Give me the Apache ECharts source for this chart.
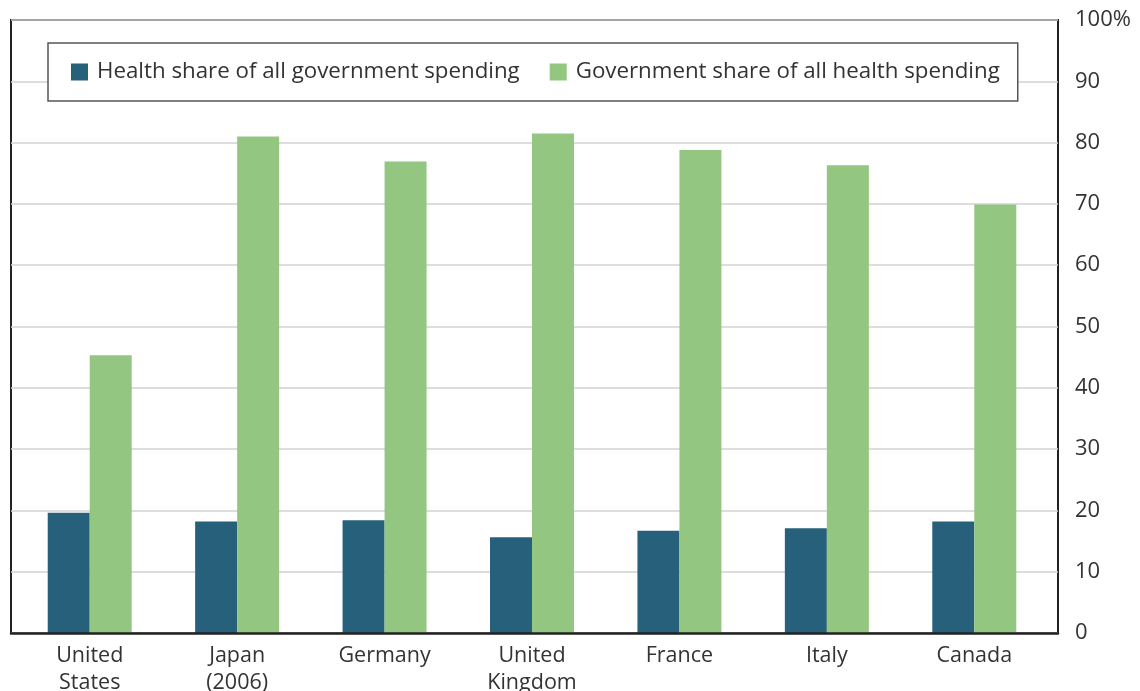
<!DOCTYPE html>
<html>
<head>
<meta charset="utf-8">
<script src="https://cdn.jsdelivr.net/npm/echarts@6/dist/echarts.min.js"></script>
<style>html,body{margin:0;padding:0;background:#fff}#c{width:1140px;height:691px}</style>
</head>
<body>
<div id="c"></div>
<script>
const categories = ['United\nStates', 'Japan\n(2006)', 'Germany', 'United\nKingdom', 'France', 'Italy', 'Canada'];
const healthShareOfGov = [19.6, 18.2, 18.4, 15.6, 16.7, 17.1, 18.2];
const govShareOfHealth = [45.3, 81.0, 76.9, 81.5, 78.8, 76.3, 69.9];
const seriesNames = ['Health share of all government spending', 'Government share of all health spending'];
const yTicks = { min: 0, max: 100, interval: 10 };

const FONT = 'Open Sans';
const chart = echarts.init(document.getElementById('c'), null, { renderer: 'canvas' });
chart.setOption({
  animation: false,
  backgroundColor: '#fff',
  textStyle: { fontFamily: FONT },
  legend: {
    data: seriesNames,
    left: 48, top: 43,
    icon: 'rect', itemWidth: 17, itemHeight: 17, itemGap: 30,
    padding: [18, 18, 18, 23],
    backgroundColor: '#fff',
    borderColor: '#555', borderWidth: 1.5,
    textStyle: { fontFamily: FONT, fontSize: 22.3, color: '#333', padding: [0, 0, 0, 4] },
    z: 20
  },
  grid: [
    { left: 11, right: 82, top: 20, bottom: 58, outerBoundsMode: 'none', containLabel: false, show: true, borderColor: '#222', borderWidth: 2, backgroundColor: 'transparent' },
    { left: 16, right: 92, top: 20, bottom: 58, outerBoundsMode: 'none', containLabel: false }
  ],
  xAxis: [
    { gridIndex: 0, type: 'category', data: [''], axisLine: { show: true, lineStyle: { color: '#222', width: 2.5 } }, axisTick: { show: false }, axisLabel: { show: false }, z: 10 },
    { gridIndex: 1, type: 'category', data: categories, axisLine: { show: false }, axisTick: { show: false },
      axisLabel: { margin: 9, fontFamily: FONT, fontSize: 21.5, lineHeight: 27, color: '#333', interval: 0 } }
  ],
  yAxis: [
    { gridIndex: 0, type: 'value', position: 'right', min: yTicks.min, max: yTicks.max, interval: yTicks.interval,
      axisLine: { show: false }, axisTick: { show: false },
      splitLine: { lineStyle: { color: '#d2d2d2', width: 1.5 } },
      axisLabel: { margin: 17, fontFamily: FONT, fontSize: 22, color: '#333', formatter: v => v === 100 ? '100%' : String(v) } },
    { gridIndex: 1, type: 'value', min: yTicks.min, max: yTicks.max, interval: yTicks.interval, show: false, splitLine: { show: false } }
  ],
  series: [
    { name: seriesNames[0], type: 'bar', xAxisIndex: 1, yAxisIndex: 1, data: healthShareOfGov, barWidth: 42, barGap: '0%', itemStyle: { color: '#27607a' } },
    { name: seriesNames[1], type: 'bar', xAxisIndex: 1, yAxisIndex: 1, data: govShareOfHealth, barWidth: 42, barGap: '0%', itemStyle: { color: '#93c680' } }
  ]
});
</script>
</body>
</html>
